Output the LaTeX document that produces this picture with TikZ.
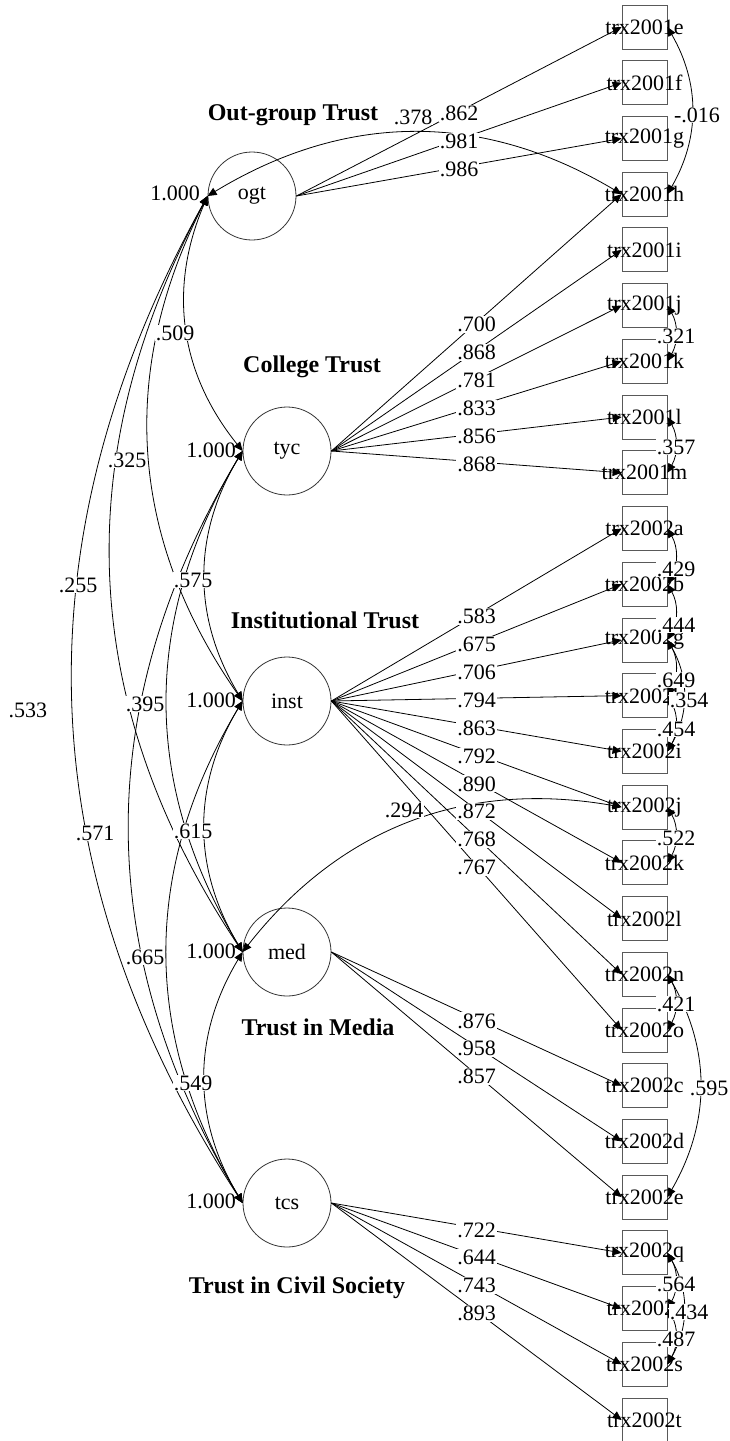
\documentclass[tikz,border=0pt]{standalone}
\usepackage{fontspec}
\setmainfont{Liberation Serif}
\usetikzlibrary{arrows.meta,calc}
\begin{document}
\begin{tikzpicture}[x=1pt,y=-1pt,
  every node/.style={font=\fontsize{22}{26}\selectfont},
  lat/.style={draw=black!80,circle,minimum size=88pt,inner sep=0pt,line width=0.8pt},
  obs/.style={draw=black!65,rectangle,minimum width=45pt,minimum height=44pt,inner sep=0pt,line width=0.8pt},
  conn/.style={line width=0.8pt,-{Triangle[length=9pt,width=8pt]}},
  dbl/.style={line width=0.8pt,{Triangle[length=9pt,width=8pt]}-{Triangle[length=9pt,width=8pt]}},
  lab/.style={fill=white,inner sep=1pt},
  ttl/.style={font=\fontsize{24}{28}\selectfont\bfseries},
]
\useasboundingbox (0,0) rectangle (729,1441);

% latent variables
\node[lat] (ogt)  at (252,196)  {ogt};
\node[lat] (tyc)  at (287,451)  {tyc};
\node[lat] (inst) at (287,701)  {inst};
\node[lat] (med)  at (287,952)  {med};
\node[lat] (tcs)  at (287,1203) {tcs};

% observed variables
\foreach \t [count=\i] in {trx2001e,trx2001f,trx2001g,trx2001h,trx2001i,trx2001j,trx2001k,trx2001l,trx2001m,trx2002a,trx2002b,trx2002g,trx2002h,trx2002i,trx2002j,trx2002k,trx2002l,trx2002n,trx2002o,trx2002c,trx2002d,trx2002e,trx2002q,trx2002r,trx2002s,trx2002t}{
  \node[obs] (v\i) at (644.5,{27+(\i-1)*55.72}) {\makebox[0pt]{\t}};
}

% titles
\node[ttl] (t1) at (293,115)  {Out-group Trust};
\node[ttl] (t2) at (312,367)  {College Trust};
\node[ttl] (t3) at (325,620)  {Institutional Trust};
\node[ttl] (t4) at (318,1027) {Trust in Media};
\node[ttl] (t5) at (297,1288) {Trust in Civil Society};

% variances
\node (w1) at (175,193)  {1.000};
\node (w2) at (211,450)  {1.000};
\node (w3) at (211,700)  {1.000};
\node (w4) at (211,951)  {1.000};
\node (w5) at (211,1201) {1.000};

% loadings
\def\loadlist{ogt/1/.862,ogt/2/.981,ogt/3/.986,
 tyc/4/.700,tyc/5/.868,tyc/6/.781,tyc/7/.833,tyc/8/.856,tyc/9/.868,
 inst/10/.583,inst/11/.675,inst/12/.706,inst/13/.794,inst/14/.863,inst/15/.792,inst/16/.890,inst/17/.872,inst/18/.768,inst/19/.767,
 med/20/.876,med/21/.958,med/22/.857,
 tcs/23/.722,tcs/24/.644,tcs/25/.743,tcs/26/.893}
\foreach \a/\b/\l in \loadlist { \draw[conn] (\a.east) -- (v\b.west); }

% latent covariances
\draw[dbl] (ogt.west) to[bend right=31] (tyc.west);
\draw[dbl] (ogt.west) to[bend right=31] (inst.west);
\draw[dbl] (ogt.west) to[bend right=31] (med.west);
\draw[dbl] (ogt.west) to[bend right=31] (tcs.west);
\draw[dbl] (tyc.west) to[bend right=31] (inst.west);
\draw[dbl] (tyc.west) to[bend right=31] (med.west);
\draw[dbl] (tyc.west) to[bend right=31] (tcs.west);
\draw[dbl] (inst.west) to[bend right=31] (med.west);
\draw[dbl] (inst.west) to[bend right=31] (tcs.west);
\draw[dbl] (med.west) to[bend right=31] (tcs.west);

% cross covariances
\draw[dbl] (ogt.west) to[bend left=31] (v4.west);
\draw[dbl] (med.west) to[bend left=31] (v15.west);

% residual covariances
\foreach \p/\q in {1/4,6/7,8/9,10/11,11/12,12/13,12/14,13/14,15/16,18/19,18/22,23/24,23/25,24/25}{
  \draw[dbl] (v\p.east) to[bend left=30] (v\q.east);
}

% loading labels
\foreach \a/\b/\l in \loadlist { \node[lab,yshift=-2pt] at ($(\a.east)!0.5!(v\b.west)$) {\l}; }

% covariance labels
\node[lab] (c1)  at (175,333)  {.509};
\node[lab] (c2)  at (127,460)  {.325};
\node[lab] (c3)  at (78,585)   {.255};
\node[lab] (c4)  at (193,580)  {.575};
\node[lab] (c5)  at (28,710)   {.533};
\node[lab] (c6)  at (145,704)  {.395};
\node[lab] (c7)  at (95,833)   {.571};
\node[lab] (c8)  at (193,831)  {.615};
\node[lab] (c9)  at (145,957)  {.665};
\node[lab] (c10) at (193,1083) {.549};
\node[lab] (c11) at (413,117)  {.378};
\node[lab] (c12) at (404,810)  {.294};

% residual covariance labels
\node[lab] (r1)  at (697,115)  {-.016};
\node[lab] (r2)  at (676,336)  {.321};
\node[lab] (r3)  at (676,447)  {.357};
\node[lab] (r4)  at (676,569)  {.429};
\node[lab] (r5)  at (676,625)  {.444};
\node[lab] (r6)  at (676,680)  {.649};
\node[lab] (r7)  at (689,700)  {.354};
\node[lab] (r8)  at (676,729)  {.454};
\node[lab] (r9)  at (676,838)  {.522};
\node[lab] (r10) at (676,1004) {.421};
\node[lab] (r11) at (709,1088) {.595};
\node[lab] (r12) at (676,1284) {.564};
\node[lab] (r13) at (689,1312) {.434};
\node[lab] (r14) at (676,1339) {.487};
\end{tikzpicture}
\end{document}
